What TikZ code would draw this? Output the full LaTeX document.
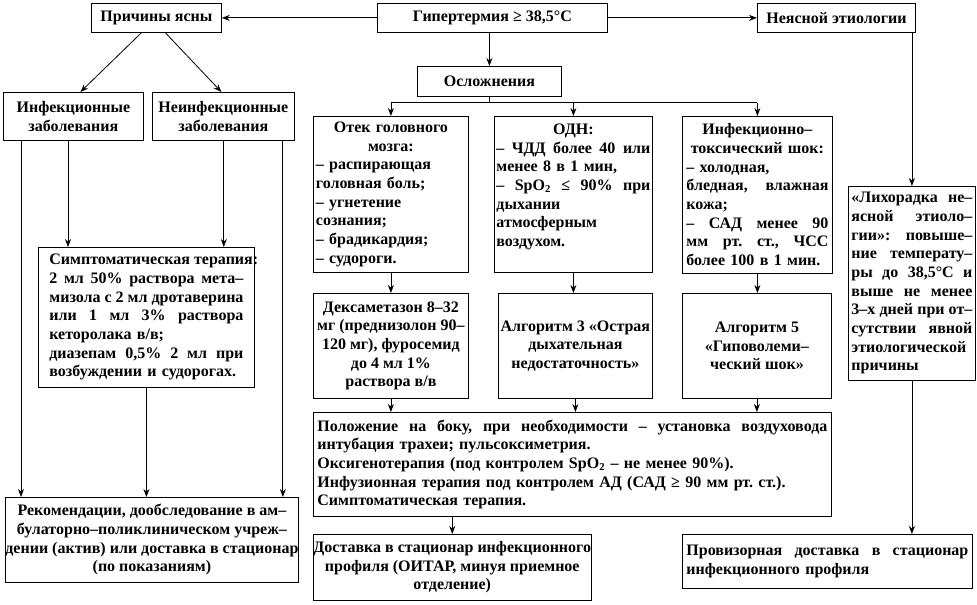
\documentclass[tikz,border=0pt]{standalone}
\usepackage{fontspec}
\setmainfont{Liberation Serif}
\usetikzlibrary{positioning,arrows.meta,calc}
\frenchspacing

% one line of a box: justified, centred, left
\newcommand{\jrow}[1]{\noindent\hbox to\linewidth{\spaceskip=0.25em plus 1fil\relax#1}\par}
\newcommand{\crow}[1]{\noindent\hbox to\linewidth{\hss#1\hss}\par}
\newcommand{\lrow}[1]{\noindent\hbox to\linewidth{#1\hfil}\par}

\begin{document}
\begin{tikzpicture}[
      x=0.75pt, y=-0.75pt,
      every node/.style={font=\bfseries\fontsize{12}{14}\selectfont},
      box/.style={draw, line width=0.6pt, inner sep=0pt, anchor=north west},
      arrow/.style={-{Stealth[length=6pt, width=4.5pt]}, line width=0.6pt},
      line/.style={line width=0.6pt},
    ]
    \useasboundingbox (0,0) rectangle (977,605);

    % Top row
    \node[box, minimum width=172.5pt, minimum height=21.75pt] (hyper) at (377,3) {Гипертермия ≥ 38,5°C};
    \node[box, minimum width=97.5pt, minimum height=21.75pt] (clear) at (91,3) {Причины ясны};
    \node[box, minimum width=118.5pt, minimum height=21.75pt] (unclear) at (757,3) {Неясной этиологии};
    \node[box, minimum width=108pt, minimum height=22.5pt] (compl) at (417,66) {Осложнения};

    % Known causes
    \node[box, minimum width=105pt, minimum height=36pt, align=center] (inf) at (3,92) {Инфекционные\\заболевания};
    \node[box, minimum width=106.5pt, minimum height=36pt, align=center] (noninf) at (152,92) {Неинфекционные\\заболевания};
    \node[box, minimum width=162pt, minimum height=105pt, text width=145.5pt] (sympt) at (38,247) {%
      \jrow{Симптоматическая терапия:}
      \jrow{2 мл 50\% раствора мета–}
      \jrow{мизола с 2 мл дротаверина}
      \jrow{или 1 мл 3\% раствора}
      \lrow{кеторолака в/в;}
      \jrow{диазепам 0,5\% 2 мл при}
      \lrow{возбуждении и судорогах.}};
    \node[box, minimum width=213pt, minimum height=63.75pt, align=center] (rec) at (5,497) {Рекомендации, дообследование в ам–\\булаторно–поликлиническом учреж–\\дении (актив) или доставка в стационар\\(по показаниям)};

    % Complications
    \node[box, minimum width=116.25pt, minimum height=117pt, text width=112.5pt] (edema) at (313,116) {%
      \crow{Отек головного}
      \crow{мозга:}
      \lrow{– распирающая}
      \lrow{головная боль;}
      \lrow{– угнетение}
      \lrow{сознания;}
      \lrow{– брадикардия;}
      \lrow{– судороги.}};
    \node[box, minimum width=118.5pt, minimum height=117pt, text width=115.5pt] (odn) at (494,116) {%
      \crow{ОДН:}
      \jrow{– ЧДД более 40 или}
      \lrow{менее 8 в 1 мин,}
      \jrow{– SpO\textsubscript{2} ≤ 90\% при}
      \lrow{дыхании}
      \lrow{атмосферным}
      \lrow{воздухом.}
      \lrow{}};
    \node[box, minimum width=112.5pt, minimum height=117.75pt, text width=106.5pt] (shock) at (682,116) {%
      \crow{Инфекционно–}
      \crow{токсический шок:}
      \lrow{– холодная,}
      \jrow{бледная, влажная}
      \lrow{кожа;}
      \jrow{– САД менее 90}
      \jrow{мм рт. ст., ЧСС}
      \lrow{более 100 в 1 мин.}};

    \node[box, minimum width=116.25pt, minimum height=78.75pt, align=center] (dexa) at (313,293) {Дексаметазон 8–32\\мг (преднизолон 90–\\120 мг), фуросемид\\до 4 мл 1\%\\раствора в/в};
    \node[box, minimum width=115.5pt, minimum height=78.75pt, align=center] (alg3) at (498,293) {Алгоритм 3 «Острая\\дыхательная\\недостаточность»};
    \node[box, minimum width=111.75pt, minimum height=78.75pt, align=center] (alg5) at (682,293) {Алгоритм 5\\«Гиповолеми–\\ческий шок»};

    \node[box, minimum width=388.5pt, minimum height=78pt, text width=382.5pt] (care) at (313,412) {%
      \jrow{Положение на боку, при необходимости – установка воздуховода}
      \lrow{интубация трахеи; пульсоксиметрия.}
      \lrow{Оксигенотерапия (под контролем SpO\textsubscript{2} – не менее 90\%).}
      \lrow{Инфузионная терапия под контролем АД (САД ≥ 90 мм рт. ст.).}
      \lrow{Симптоматическая терапия.}};
    \node[box, minimum width=178.5pt, minimum height=49.5pt, align=center] (deliv) at (313,534) {Доставка в стационар инфекционного\\профиля (ОИТАР, минуя приемное\\отделение)};

    % Unknown cause
    \node[box, minimum width=95.25pt, minimum height=145.5pt, text width=90.75pt] (fever) at (848,186) {%
      \jrow{«Лихорадка не–}
      \jrow{ясной этиоло–}
      \jrow{гии»: повыше–}
      \jrow{ние температу–}
      \jrow{ры до 38,5°C и}
      \jrow{выше не менее}
      \jrow{3–х дней при от–}
      \jrow{сутствии явной}
      \lrow{этиологической}
      \lrow{причины}};
    \node[box, minimum width=217.5pt, minimum height=40.5pt, text width=211.5pt] (prov) at (682,534) {%
      \jrow{Провизорная доставка в стационар}
      \lrow{инфекционного профиля}};

    % Arrows, top
    \draw[arrow] (hyper) -- (clear);
    \draw[arrow] (hyper) -- (unclear);
    \draw[arrow] ($(clear.south)+(-15,0)$) -- ($(inf.north)+(7,0)$);
    \draw[arrow] ($(clear.south)+(9,0)$) -- ($(noninf.north)+(-2,0)$);
    \draw[arrow] (compl.north |- hyper.south) -- (compl.north);

    % Arrows, complications
    \coordinate (bus) at ($(compl.south)+(0,6)$);
    \draw[line] (compl.south) -- (bus);
    \draw[line] (bus -| edema.north) -- (bus -| shock.north);
    \draw[arrow] (bus -| edema.north) -- (edema.north);
    \draw[arrow] (bus -| odn.north) -- (odn.north);
    \draw[arrow] (bus -| shock.north) -- (shock.north);
    \draw[arrow] (edema.south) -- (edema.south |- dexa.north);
    \draw[arrow] (odn.south) -- (odn.south |- alg3.north);
    \draw[arrow] (shock.south) -- (shock.south |- alg5.north);
    \draw[arrow] (dexa.south) -- (dexa.south |- care.north);
    \draw[arrow] (alg3.south) -- (alg3.south |- care.north);
    \draw[arrow] (alg5.south) -- (alg5.south |- care.north);
    \draw[arrow] (deliv.north |- care.south) -- (deliv.north);

    % Arrows, unknown cause
    \draw[arrow] (fever.north |- unclear.south) -- (fever.north);
    \draw[arrow] (fever.south) -- (fever.south |- prov.north);

    % Arrows, known causes
    \coordinate (s1) at ($(sympt.north west)+(30,0)$);
    \coordinate (s2) at ($(sympt.north east)+(-31,0)$);
    \coordinate (r1) at ($(rec.north west)+(16,0)$);
    \coordinate (r3) at ($(rec.north east)+(-16,0)$);
    \draw[arrow] (inf.south -| s1) -- (s1);
    \draw[arrow] (noninf.south -| s2) -- (s2);
    \draw[arrow] (inf.south -| r1) -- (r1);
    \draw[arrow] (noninf.south -| r3) -- (r3);
    \draw[arrow] (sympt.south) -- (sympt.south |- rec.north);
  \end{tikzpicture}
\end{document}
